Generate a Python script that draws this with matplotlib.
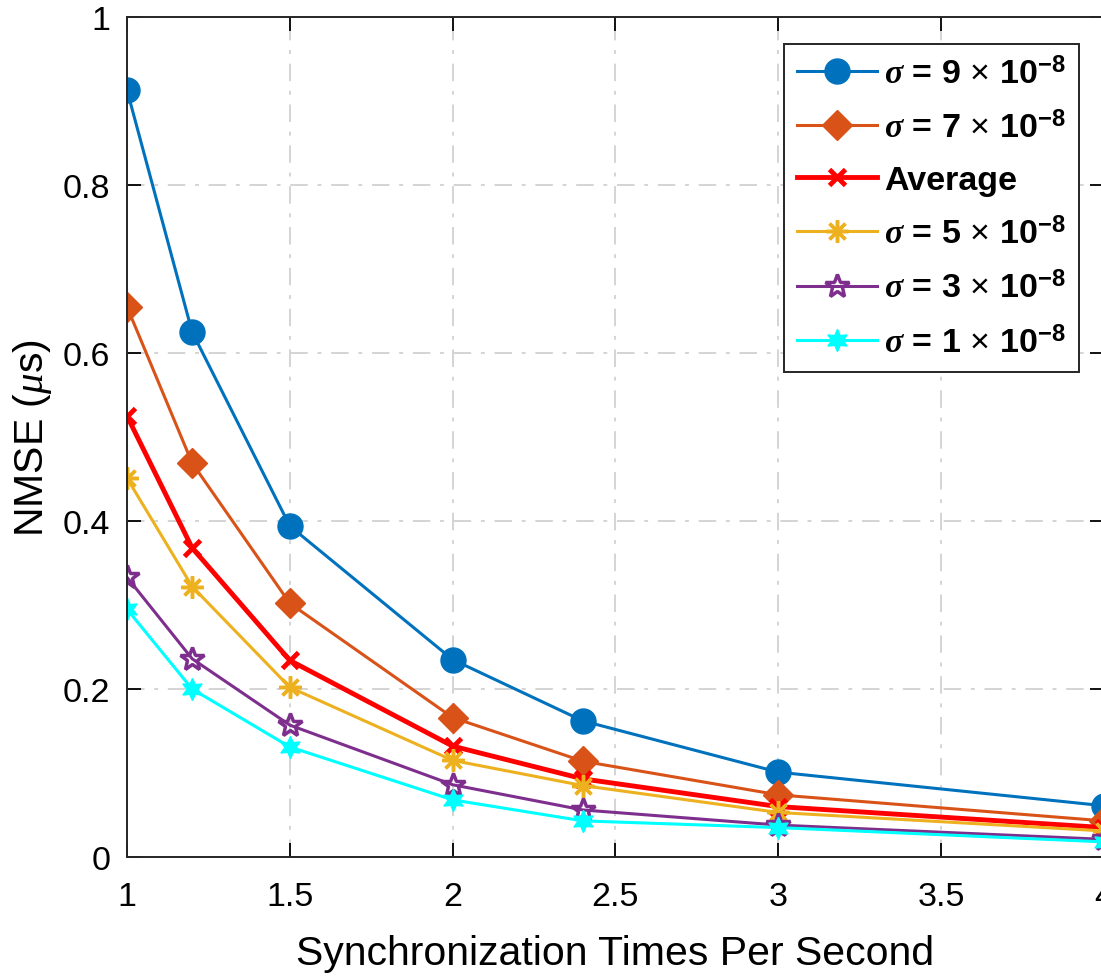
import numpy as np
import matplotlib
matplotlib.use("Agg")
import matplotlib.pyplot as plt

plt.rcParams['font.family'] = ['Liberation Sans', 'DejaVu Sans']
plt.rcParams['mathtext.fontset'] = 'custom'
plt.rcParams['mathtext.rm'] = 'Liberation Sans'
plt.rcParams['mathtext.bf'] = 'Liberation Sans:bold'
plt.rcParams['mathtext.it'] = 'Liberation Serif:italic:bold'
plt.rcParams['mathtext.cal'] = 'Liberation Serif:italic'

# data
x = [1, 1.2, 1.5, 2, 2.4, 3, 4]
s9 = [0.913, 0.625, 0.394, 0.235, 0.162, 0.101, 0.061]
s7 = [0.655, 0.469, 0.302, 0.166, 0.114, 0.074, 0.043]
avg = [0.525, 0.368, 0.234, 0.132, 0.093, 0.060, 0.035]
s5 = [0.451, 0.322, 0.202, 0.115, 0.085, 0.053, 0.031]
s3 = [0.333, 0.236, 0.157, 0.086, 0.056, 0.038, 0.021]
s1 = [0.295, 0.200, 0.131, 0.068, 0.043, 0.035, 0.018]

labels = [r'$\sigma$ = 9$\,\times\,$10$^{\mathbf{-8}}$',
          r'$\sigma$ = 7$\,\times\,$10$^{\mathbf{-8}}$',
          'Average',
          r'$\sigma$ = 5$\,\times\,$10$^{\mathbf{-8}}$',
          r'$\sigma$ = 3$\,\times\,$10$^{\mathbf{-8}}$',
          r'$\sigma$ = 1$\,\times\,$10$^{\mathbf{-8}}$']

fig = plt.figure(figsize=(11.01, 9.78), dpi=100)
ax = fig.add_axes([127/1101, 120/978, 977/1101, 840/978])

ax.plot(x, s9, '-o', color='#0072BD', lw=2.2, ms=18, label=labels[0])
ax.plot(x, s7, '-D', color='#D95319', lw=2.2, ms=15, label=labels[1])
ax.plot(x, avg, '-x', color='#FF0000', lw=3.5, ms=11, mew=3.5, label=labels[2])
ax.plot(x, s5, '-', marker=(8, 2, 0), color='#EDB120', lw=2.2, ms=16, mew=2.5, label=labels[3])
ax.plot(x, s3, '-*', color='#7E2F8E', lw=2.2, ms=18, mew=2.5, mfc='none', label=labels[4])
ax.plot(x, s1, '-', marker=(6, 1, 0), color='#00FFFF', lw=2.2, ms=16, label=labels[5])

ax.set_xlim(1, 4)
ax.set_ylim(0, 1)
ax.set_xticks([1, 1.5, 2, 2.5, 3, 3.5, 4])
ax.set_xticklabels(['1', '1.5', '2', '2.5', '3', '3.5', '4'])
ax.set_yticks([0, 0.2, 0.4, 0.6, 0.8, 1])
ax.set_yticklabels(['0', '0.2', '0.4', '0.6', '0.8', '1'])
ax.tick_params(direction='in', labelsize=24.5, length=10, width=1.3, top=True, right=True)
ax.tick_params(axis='x', pad=17)
ax.tick_params(axis='y', pad=12)
ax.grid(True, color='#d4d4d4', lw=1.4, dashes=(9, 5, 2, 5))
for sp in ax.spines.values():
    sp.set_linewidth(1.4)
    sp.set_color('#262626')

ax.set_xlabel('Synchronization Times Per Second', fontsize=29.5, labelpad=16)
ax.set_ylabel(r'NMSE ($\mathcal{\mu}$s)', fontsize=29.5, labelpad=6)

leg = ax.legend(loc='upper right', bbox_to_anchor=(0.9745, 0.968), fancybox=False,
                edgecolor='#262626', framealpha=1, handlelength=2.35,
                prop={'weight': 'bold', 'size': 24.5}, labelspacing=0.62,
                borderpad=0.38, handletextpad=0.22, borderaxespad=0)
leg.get_frame().set_linewidth(1.4)

fig.savefig('out.png', dpi=100)
